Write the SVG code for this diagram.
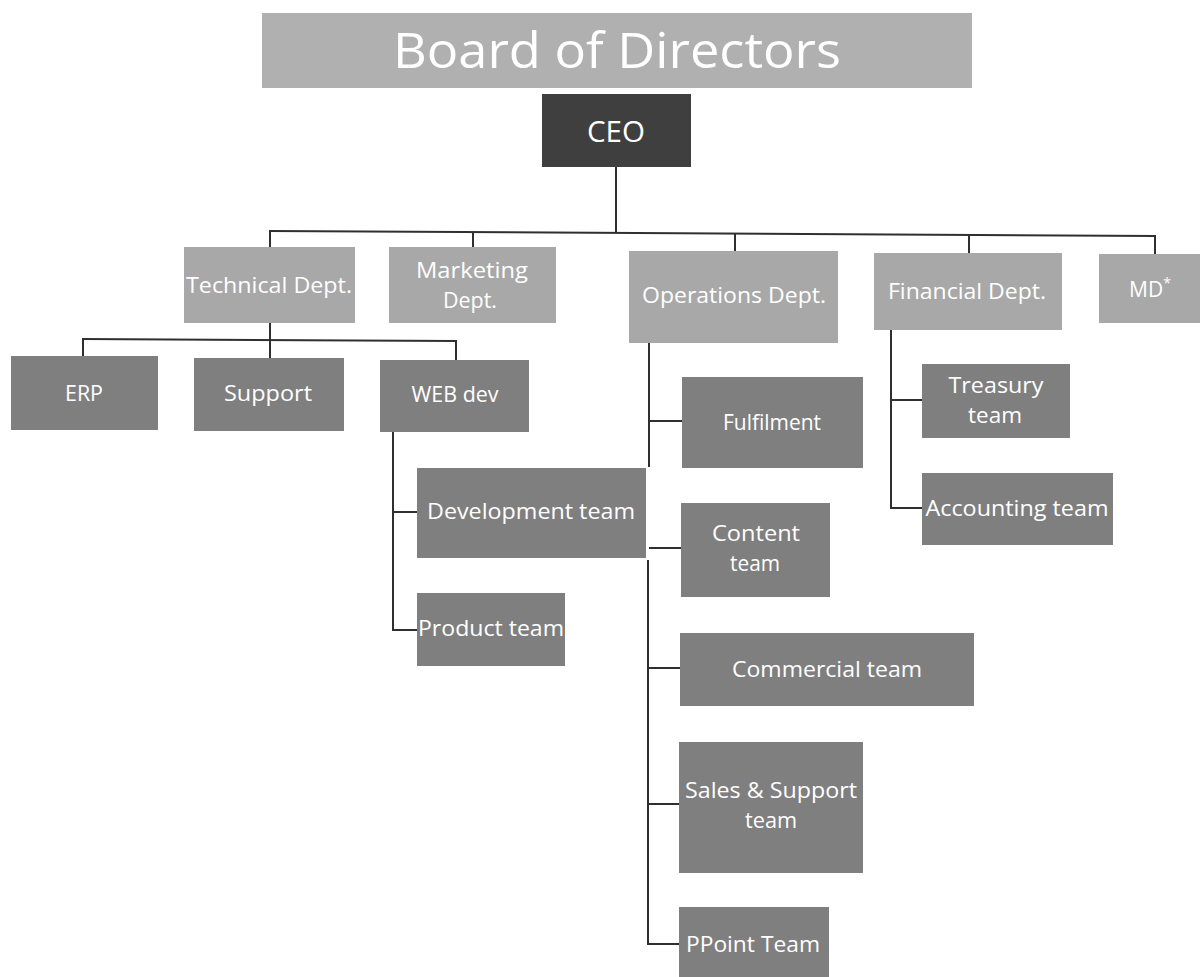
<svg xmlns="http://www.w3.org/2000/svg" width="1200" height="977" viewBox="0 0 1200 977">
<style>
.lv0{fill:#b0b0b0}
.ceo{fill:#3f3f3f}
.lv1{fill:#a8a8a8}
.lv2{fill:#7f7f7f}
text{font-family:"Open Sans","Liberation Sans",sans-serif;fill:#ffffff;text-anchor:middle}
.t1{font-size:21px}
.t2{font-size:21px}
.con line,.con path{stroke:#2f2f2f;stroke-width:2;fill:none}
</style>
<rect width="1200" height="977" fill="#ffffff"/>
<g class="con" id="connectors">
<line x1="616" y1="167" x2="616" y2="232"/>
<line x1="269" y1="231" x2="1156" y2="236"/>
<line x1="270" y1="231" x2="270" y2="247"/>
<line x1="473" y1="232" x2="473" y2="247"/>
<line x1="735" y1="233" x2="735" y2="251"/>
<line x1="969" y1="235" x2="969" y2="253"/>
<line x1="1155" y1="236" x2="1155" y2="254"/>
<line x1="270" y1="323" x2="270" y2="340"/>
<line x1="82" y1="339" x2="457" y2="341"/>
<line x1="83" y1="339" x2="83" y2="357"/>
<line x1="270" y1="340" x2="270" y2="359"/>
<line x1="456" y1="341" x2="456" y2="361"/>
<path d="M393 432 V630 H417"/>
<line x1="393" y1="512" x2="417" y2="512"/>
<path d="M649 343 V467"/>
<line x1="649" y1="421" x2="682" y2="421"/>
<line x1="649" y1="548" x2="681" y2="548"/>
<path d="M648 560 V944 H679"/>
<line x1="648" y1="668" x2="680" y2="668"/>
<line x1="648" y1="804" x2="679" y2="804"/>
<path d="M891 330 V508 H922"/>
<line x1="891" y1="400" x2="922" y2="400"/>
</g>
<g id="board"><rect class="lv0" x="262" y="13" width="710" height="75"/><text x="617" y="68" font-size="50" textLength="448" lengthAdjust="spacingAndGlyphs">Board of Directors</text></g>
<g id="ceo"><rect class="ceo" x="542" y="94" width="149" height="73"/><text x="616" y="142" font-size="30" textLength="58" lengthAdjust="spacingAndGlyphs">CEO</text></g>
<g id="technical"><rect class="lv1" x="184" y="247" width="171" height="76"/><text class="t1" x="269" y="293" textLength="166" lengthAdjust="spacingAndGlyphs">Technical Dept.</text></g>
<g id="marketing"><rect class="lv1" x="389" y="247" width="167" height="76"/><text class="t1" x="472" y="278" textLength="112" lengthAdjust="spacingAndGlyphs">Marketing</text><text class="t1" x="470" y="308" textLength="54" lengthAdjust="spacingAndGlyphs">Dept.</text></g>
<g id="operations"><rect class="lv1" x="629" y="251" width="209" height="92"/><text class="t1" x="734" y="303" textLength="184" lengthAdjust="spacingAndGlyphs">Operations Dept.</text></g>
<g id="financial"><rect class="lv1" x="874" y="253" width="188" height="77"/><text class="t1" x="967" y="299" textLength="158" lengthAdjust="spacingAndGlyphs">Financial Dept.</text></g>
<g id="md"><rect class="lv1" x="1099" y="254" width="101" height="69"/><text class="t1" x="1150" y="297">MD<tspan font-size="14" dy="-9">*</tspan></text></g>
<g id="erp"><rect class="lv2" x="11" y="356" width="147" height="74"/><text class="t2" x="84" y="401" textLength="38" lengthAdjust="spacingAndGlyphs">ERP</text></g>
<g id="support"><rect class="lv2" x="194" y="358" width="150" height="73"/><text class="t2" x="268" y="401" textLength="88" lengthAdjust="spacingAndGlyphs">Support</text></g>
<g id="webdev"><rect class="lv2" x="380" y="360" width="149" height="72"/><text class="t2" x="455" y="402" textLength="87" lengthAdjust="spacingAndGlyphs">WEB dev</text></g>
<g id="development"><rect class="lv2" x="417" y="468" width="229" height="90"/><text class="t2" x="531" y="519" textLength="208" lengthAdjust="spacingAndGlyphs">Development team</text></g>
<g id="product"><rect class="lv2" x="417" y="593" width="148" height="73"/><text class="t2" x="491" y="636" textLength="146" lengthAdjust="spacingAndGlyphs">Product team</text></g>
<g id="fulfilment"><rect class="lv2" x="682" y="377" width="181" height="91"/><text class="t2" x="772" y="430" textLength="98" lengthAdjust="spacingAndGlyphs">Fulfilment</text></g>
<g id="content"><rect class="lv2" x="681" y="503" width="149" height="94"/><text class="t2" x="756" y="541" textLength="88" lengthAdjust="spacingAndGlyphs">Content</text><text class="t2" x="755" y="571" textLength="50" lengthAdjust="spacingAndGlyphs">team</text></g>
<g id="commercial"><rect class="lv2" x="680" y="633" width="294" height="73"/><text class="t2" x="827" y="677" textLength="190" lengthAdjust="spacingAndGlyphs">Commercial team</text></g>
<g id="sales"><rect class="lv2" x="679" y="742" width="184" height="131"/><text class="t2" x="771" y="798" textLength="172" lengthAdjust="spacingAndGlyphs">Sales &amp; Support</text><text class="t2" x="771" y="828" textLength="52" lengthAdjust="spacingAndGlyphs">team</text></g>
<g id="ppoint"><rect class="lv2" x="679" y="907" width="150" height="70"/><text class="t2" x="753" y="952" textLength="134" lengthAdjust="spacingAndGlyphs">PPoint Team</text></g>
<g id="treasury"><rect class="lv2" x="922" y="364" width="148" height="74"/><text class="t2" x="996" y="393" textLength="95" lengthAdjust="spacingAndGlyphs">Treasury</text><text class="t2" x="995" y="423" textLength="54" lengthAdjust="spacingAndGlyphs">team</text></g>
<g id="accounting"><rect class="lv2" x="922" y="473" width="191" height="72"/><text class="t2" x="1017" y="516" textLength="183" lengthAdjust="spacingAndGlyphs">Accounting team</text></g>
</svg>
